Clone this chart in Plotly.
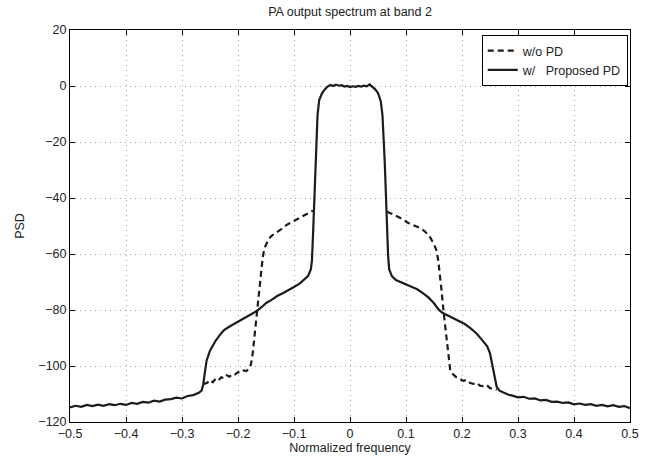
import plotly.graph_objects as go

# ---- data ----
freq_pd = [-0.500, -0.490, -0.480, -0.470, -0.460, -0.450, -0.440, -0.430, -0.420, -0.410,
           -0.400, -0.390, -0.380, -0.370, -0.360, -0.350, -0.340, -0.330, -0.320, -0.310,
           -0.300, -0.290, -0.280, -0.270, -0.265, -0.262, -0.259, -0.256, -0.250, -0.245,
           -0.240, -0.232, -0.225, -0.215, -0.205, -0.195, -0.185, -0.175, -0.167, -0.158,
           -0.149, -0.140, -0.130, -0.120, -0.110, -0.100, -0.090, -0.082, -0.075, -0.070,
           -0.068, -0.066, -0.064, -0.062, -0.060, -0.058, -0.055, -0.050, -0.045, -0.040,
           -0.035, -0.030, -0.025, -0.020, -0.015, -0.010, -0.005, 0.000, 0.005, 0.010,
           0.015, 0.020, 0.025, 0.030, 0.035, 0.040, 0.045, 0.050, 0.055, 0.058,
           0.060, 0.062, 0.064, 0.066, 0.068, 0.070, 0.075, 0.082, 0.090, 0.100,
           0.110, 0.120, 0.130, 0.140, 0.150, 0.158, 0.165, 0.175, 0.185, 0.195,
           0.205, 0.215, 0.225, 0.235, 0.245, 0.250, 0.254, 0.258, 0.262, 0.267,
           0.274, 0.282, 0.290, 0.300, 0.310, 0.320, 0.330, 0.340, 0.350, 0.360,
           0.370, 0.380, 0.390, 0.400, 0.410, 0.420, 0.430, 0.440, 0.450, 0.460,
           0.470, 0.480, 0.490, 0.500]
psd_pd = [-114.8, -114.2, -114.6, -113.9, -114.3, -113.8, -114.2, -113.6, -114.0, -113.5,
          -113.9, -113.2, -113.5, -112.8, -113.1, -112.4, -112.7, -112.0, -111.8, -111.3,
          -111.6, -110.7, -110.4, -109.6, -108.8, -106.5, -102.0, -98.0, -94.5, -92.5,
          -91.0, -88.8, -87.2, -85.9, -84.8, -83.6, -82.6, -81.5, -80.4, -79.0,
          -77.4, -76.4, -75.0, -74.0, -73.0, -71.8, -70.6, -69.2, -67.9, -65.5,
          -62.5, -53.0, -41.0, -28.0, -18.0, -10.5, -5.0, -2.6, -1.2, -0.2,
          0.4, 0.0, 0.5, 0.1, 0.3, -0.2, 0.0, -0.4, -0.1, -0.3,
          0.0, -0.2, 0.1, -0.1, 0.6, -0.2, -1.2, -2.5, -5.5, -10.5,
          -17.0, -27.0, -38.0, -50.0, -60.5, -65.5, -68.0, -69.3, -70.0, -70.8,
          -71.8, -72.6, -74.0, -75.5, -77.6, -79.8, -81.0, -82.0, -83.0, -83.8,
          -85.0, -86.5, -88.2, -90.5, -93.0, -95.5, -99.0, -103.5, -107.5, -108.8,
          -109.5, -110.2, -110.6, -111.2, -111.0, -111.7, -111.6, -112.3, -112.1, -112.8,
          -112.7, -113.2, -113.0, -113.7, -113.4, -113.9, -113.6, -114.2, -113.9, -114.4,
          -114.0, -114.6, -114.3, -115.1]

freq_nopd = [-0.262, -0.255, -0.250, -0.245, -0.240, -0.235, -0.230, -0.225, -0.220, -0.215,
             -0.210, -0.205, -0.200, -0.195, -0.190, -0.185, -0.180, -0.177, -0.174, -0.171,
             -0.168, -0.165, -0.162, -0.159, -0.156, -0.153, -0.149, -0.145, -0.140, -0.131,
             -0.122, -0.113, -0.104, -0.095, -0.086, -0.077, -0.070, -0.066,
             0.066, 0.070, 0.077, 0.084, 0.094, 0.104, 0.114, 0.125, 0.134, 0.143,
             0.150, 0.155, 0.158, 0.161, 0.164, 0.167, 0.170, 0.173, 0.176, 0.179,
             0.185, 0.190, 0.196, 0.202, 0.208, 0.214, 0.220, 0.226, 0.232, 0.238,
             0.244, 0.250, 0.256, 0.262]
psd_nopd = [-106.5, -106.0, -105.0, -105.8, -104.6, -105.2, -104.0, -104.4, -103.3, -103.8,
            -102.8, -103.0, -102.2, -102.4, -101.6, -101.8, -100.8, -99.5, -96.0, -90.0,
            -84.0, -78.0, -72.0, -66.5, -61.5, -58.0, -56.0, -54.6, -53.5, -52.4,
            -51.0, -49.6, -48.6, -47.6, -46.7, -45.8, -45.0, -44.5,
            -44.8, -45.3, -45.8, -46.5, -47.6, -48.9, -49.8, -50.7, -52.0, -54.0,
            -56.5, -59.0, -63.0, -68.0, -74.0, -80.5, -86.0, -90.5, -96.5, -101.5,
            -103.2, -104.0, -104.6, -105.3, -105.0, -106.0, -106.4, -106.0, -107.0, -107.2,
            -106.8, -107.9, -108.0, -108.5]

x_ticks = [-0.5, -0.4, -0.3, -0.2, -0.1, 0, 0.1, 0.2, 0.3, 0.4, 0.5]
x_tick_labels = ["\u22120.5", "\u22120.4", "\u22120.3", "\u22120.2", "\u22120.1", "0",
                 "0.1", "0.2", "0.3", "0.4", "0.5"]
y_ticks = [-120, -100, -80, -60, -40, -20, 0, 20]
y_tick_labels = ["\u2212120", "\u2212100", "\u221280", "\u221260", "\u221240", "\u221220", "0", "20"]

# split the w/o PD series at the in-band gap (hidden under the PD curve)
nx, ny = [], []
for i, (fx, fy) in enumerate(zip(freq_nopd, psd_nopd)):
    if i > 0 and freq_nopd[i - 1] < 0 < fx:
        nx.append(None); ny.append(None)
    nx.append(fx); ny.append(fy)

FONT = "Liberation Sans, Arial, sans-serif"
INK = "#1c1c1c"
TXT = "#222"
FS = 12.5

fig = go.Figure()
fig.add_trace(go.Scatter(x=nx, y=ny, mode="lines", name="w/o PD",
                         line=dict(color=INK, width=2.2, dash="6px,4px")))
fig.add_trace(go.Scatter(x=freq_pd, y=psd_pd, mode="lines",
                         name="w/\u00a0\u00a0 Proposed PD",
                         line=dict(color=INK, width=2.2)))

axis_common = dict(showline=True, linecolor="black", linewidth=1, mirror="ticks",
                   ticks="inside", ticklen=5, tickcolor="black",
                   showgrid=True, gridcolor="#a8a8a8", griddash="1px,4px", gridwidth=1,
                   zeroline=False, tickfont=dict(family=FONT, size=FS, color=TXT))

fig.update_xaxes(range=[-0.5, 0.5], tickvals=x_ticks, ticktext=x_tick_labels,
                 title=dict(text="Normalized frequency", standoff=1,
                            font=dict(family=FONT, size=FS, color=TXT)),
                 **axis_common)
fig.update_yaxes(range=[-120, 20], tickvals=y_ticks, ticktext=y_tick_labels,
                 title=dict(text="PSD", standoff=10,
                            font=dict(family=FONT, size=FS, color=TXT)),
                 **axis_common)

fig.update_layout(
    width=658, height=461,
    margin=dict(l=70, r=28, t=30, b=39, autoexpand=False),
    paper_bgcolor="white", plot_bgcolor="white",
    title=dict(text="PA output spectrum at band 2", x=0.532, xanchor="center",
               y=0.974, yanchor="middle",
               font=dict(family=FONT, size=FS, color=TXT)),
    showlegend=True,
    legend=dict(x=0.996, y=0.987, xanchor="right", yanchor="top",
                bgcolor="white", bordercolor="black", borderwidth=1,
                font=dict(family=FONT, size=FS, color=TXT),
                tracegroupgap=0, itemwidth=30),
)

fig.write_html("out.html", config={"displayModeBar": False},
               post_script="document.body.style.margin='0';")
